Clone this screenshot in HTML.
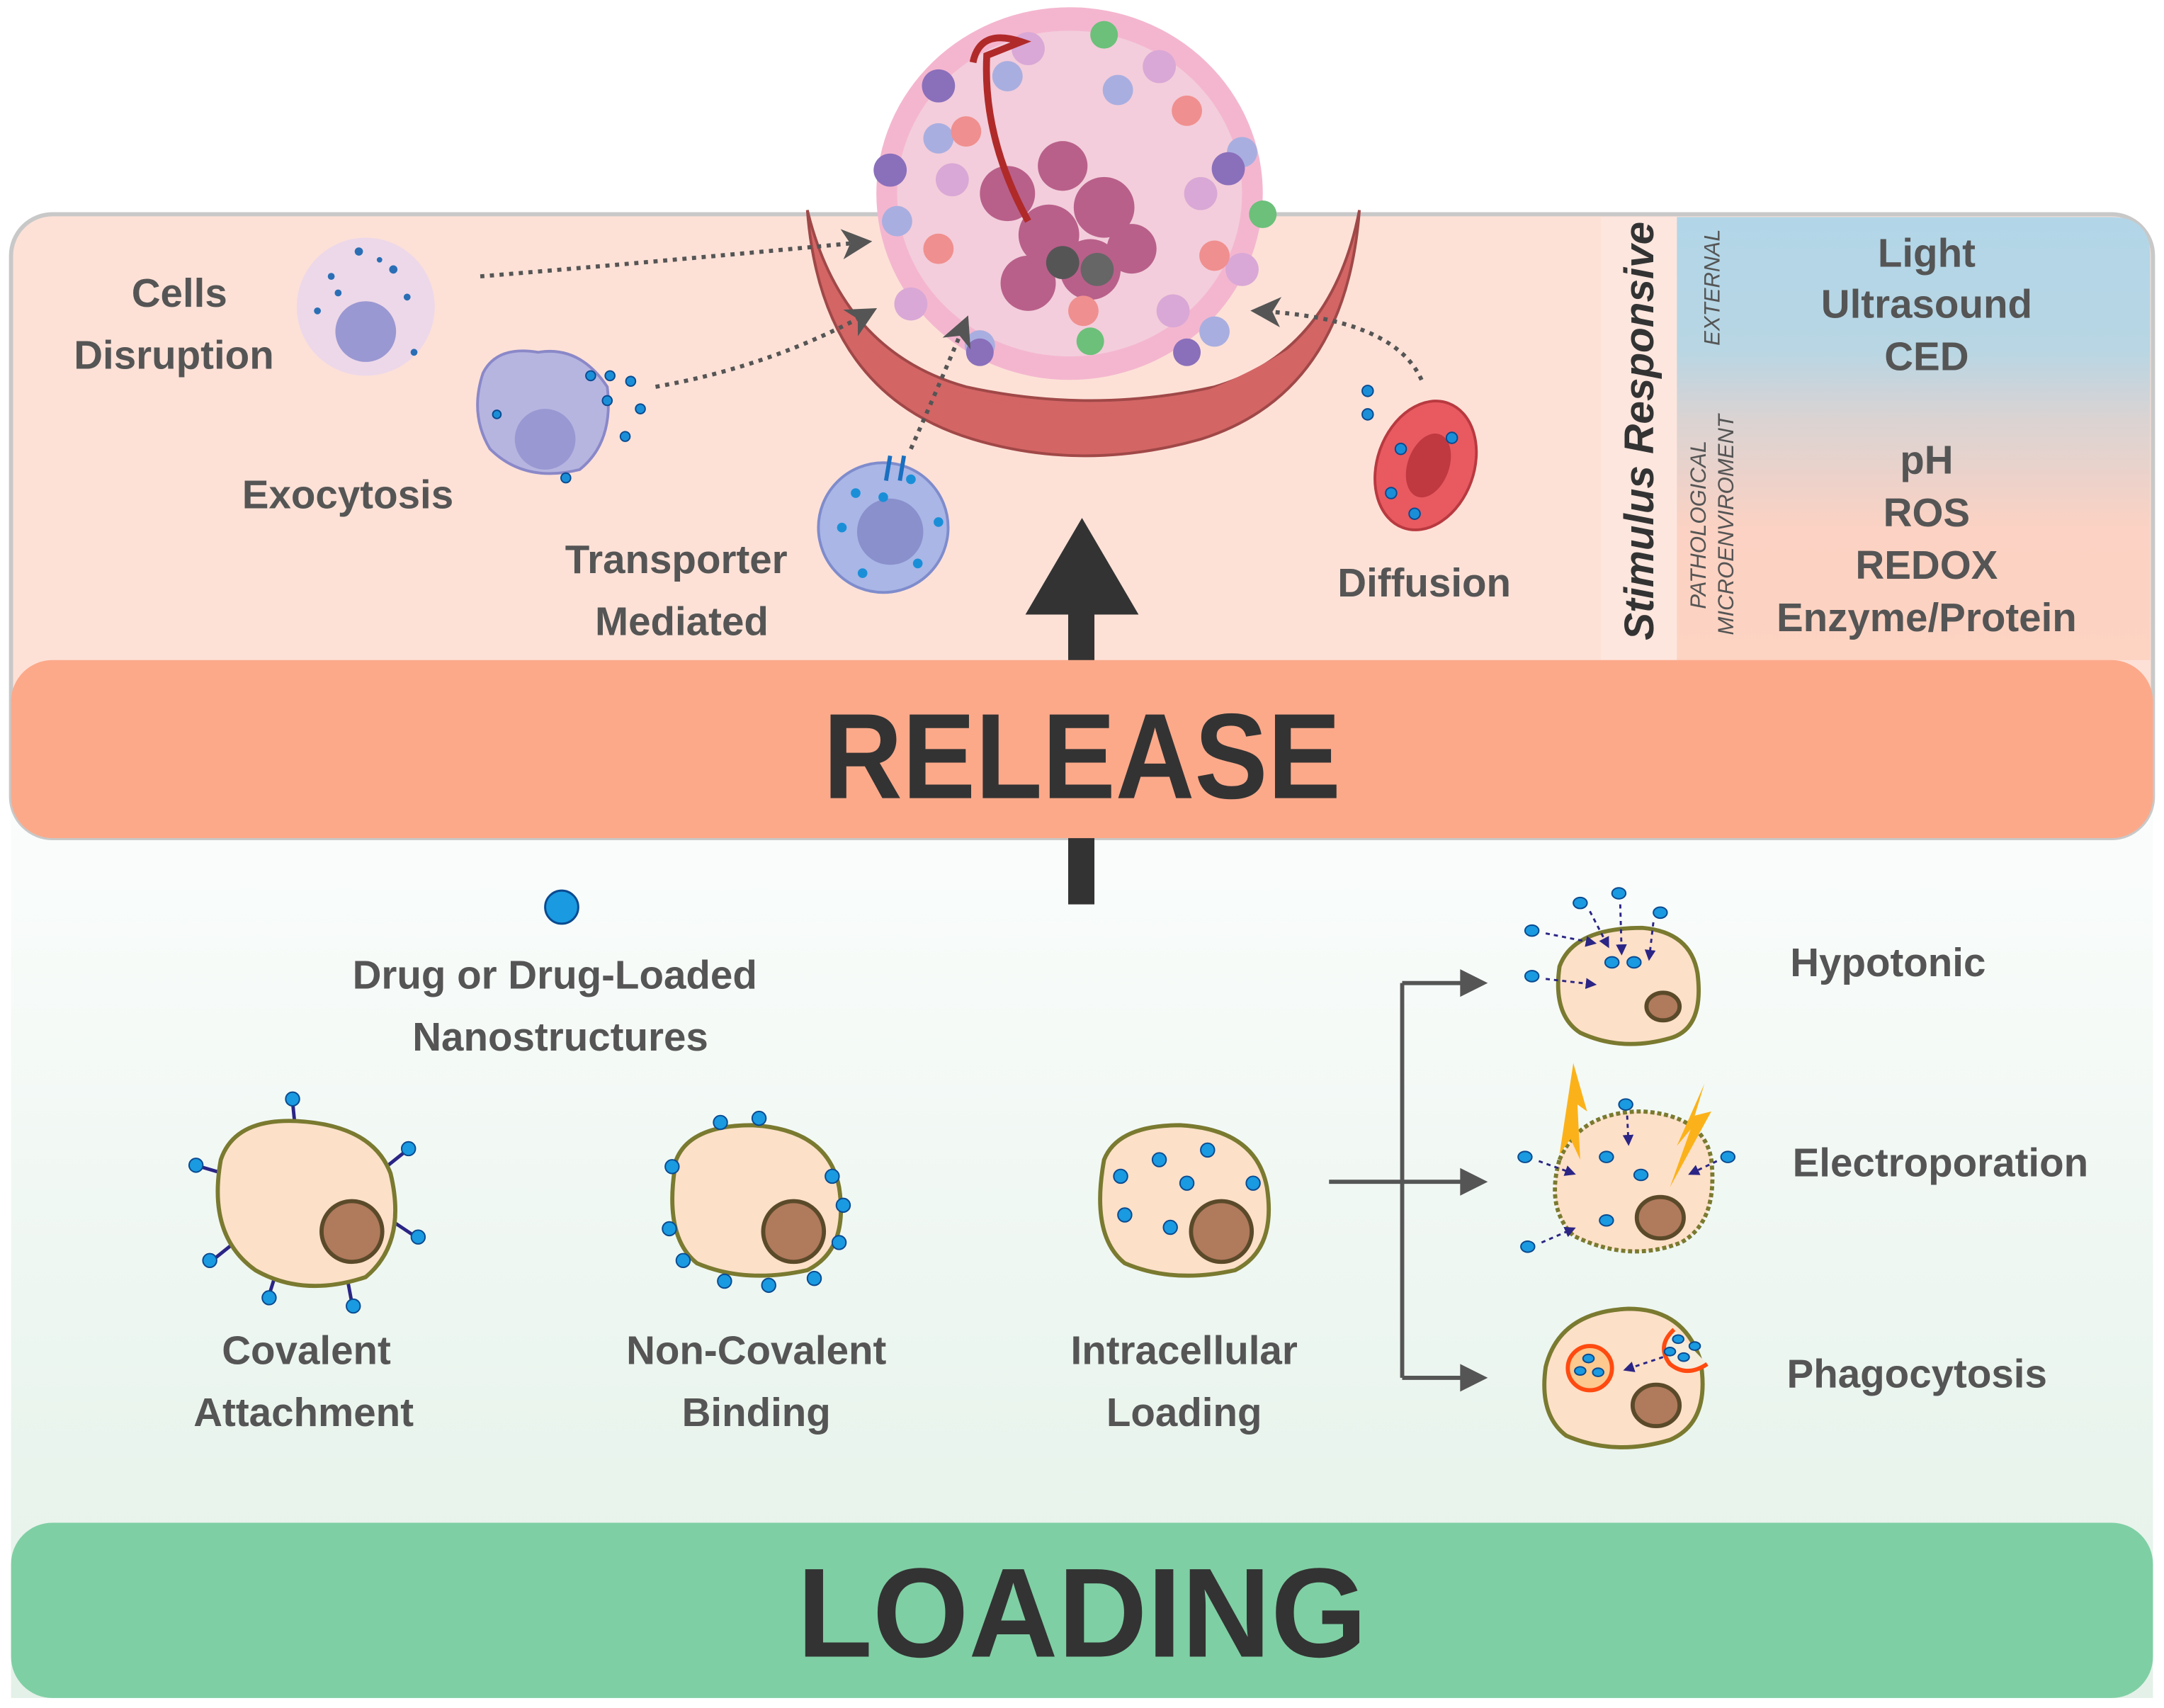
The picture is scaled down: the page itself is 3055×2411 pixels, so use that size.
<!DOCTYPE html>
<html><head><meta charset="utf-8"><style>
html,body{margin:0;padding:0;background:#fff;}
svg{display:block;}
text{font-family:"Liberation Sans",sans-serif;font-weight:bold;fill:#555;}
</style></head><body>
<svg width="3055" height="2411" viewBox="0 0 1568 1237" xmlns="http://www.w3.org/2000/svg">
<defs>
<linearGradient id="low" x1="0" y1="0" x2="0" y2="1"><stop offset="0" stop-color="#fbfdfc"/><stop offset="1" stop-color="#e3f1e8"/></linearGradient>
<linearGradient id="stim" x1="0" y1="0" x2="0" y2="1"><stop offset="0" stop-color="#b2d6e8"/><stop offset="0.3" stop-color="#b8d6e4"/><stop offset="0.45" stop-color="#d9d3d3"/><stop offset="0.7" stop-color="#fbd2c3"/><stop offset="1" stop-color="#fdd3c2"/></linearGradient>
<marker id="ah" markerWidth="8" markerHeight="8" refX="6" refY="4" orient="auto" markerUnits="userSpaceOnUse"><path d="M0,0 L8,4 L0,8 z" fill="#2b2585"/></marker>
<marker id="gh" markerWidth="22" markerHeight="22" refX="18" refY="11" orient="auto" markerUnits="userSpaceOnUse"><path d="M0,0 L22,11 L0,22 L6,11 z" fill="#555"/></marker>
</defs>
<!-- lower region -->
<rect x="8" y="580" width="1552" height="650" fill="url(#low)"/>
<!-- top panel -->
<rect x="8" y="155" width="1552" height="452" rx="30" fill="#fde1d7" stroke="#c8c8c8" stroke-width="3"/>
<path d="M1215,157 H1530 Q1558,157 1558,185 V478 H1215 Z" fill="url(#stim)"/>
<rect x="1160" y="157" width="55" height="321" fill="#fde6de"/>
<!-- big arrow (behind band) -->
<rect x="774" y="440" width="19" height="215" fill="#333"/>
<path d="M743,445 L784,375 L825,445 Z" fill="#333"/>
<!-- release band -->
<rect x="8" y="478" width="1552" height="129" rx="30" fill="#fca98a"/>
<text x="784" y="578" font-size="88" text-anchor="middle" textLength="375" lengthAdjust="spacingAndGlyphs" style="fill:#333">RELEASE</text>
<!-- loading band -->
<rect x="8" y="1103" width="1552" height="127" rx="30" fill="#7fcfa4"/>
<text x="784" y="1200" font-size="92" text-anchor="middle" textLength="413" lengthAdjust="spacingAndGlyphs" style="fill:#333">LOADING</text>
<!-- tumor -->
<path d="M585,152 Q595,285 705,318 Q785,342 870,318 Q975,285 985,152 Q965,255 880,280 Q790,300 700,280 Q610,255 585,152 Z" fill="#d46565" stroke="#a04848" stroke-width="2"/>
<ellipse cx="775" cy="140" rx="140" ry="135" fill="#f4b6cf"/>
<ellipse cx="775" cy="140" rx="125" ry="118" fill="#f3cddb"/>
<path d="M610,235 Q700,300 785,300 Q870,300 960,235 Q930,275 880,285 Q790,305 700,285 Q640,270 610,235 Z" fill="#d46565"/>
<g fill="#b8608a">
<circle cx="760" cy="170" r="22"/><circle cx="800" cy="150" r="22"/><circle cx="730" cy="140" r="20"/><circle cx="790" cy="195" r="22"/><circle cx="745" cy="205" r="20"/><circle cx="820" cy="180" r="18"/><circle cx="770" cy="120" r="18"/></g>
<circle cx="770" cy="190" r="12" fill="#555"/><circle cx="795" cy="195" r="12" fill="#666"/>
<g fill="#a9aee0"><circle cx="680" cy="100" r="11"/><circle cx="650" cy="160" r="11"/><circle cx="880" cy="240" r="11"/><circle cx="810" cy="65" r="11"/><circle cx="900" cy="110" r="11"/><circle cx="730" cy="55" r="11"/><circle cx="710" cy="250" r="11"/></g>
<g fill="#d9a8d6"><circle cx="745" cy="35" r="12"/><circle cx="840" cy="48" r="12"/><circle cx="690" cy="130" r="12"/><circle cx="870" cy="140" r="12"/><circle cx="900" cy="195" r="12"/><circle cx="660" cy="220" r="12"/><circle cx="850" cy="225" r="12"/></g>
<g fill="#f08f8f"><circle cx="700" cy="95" r="11"/><circle cx="860" cy="80" r="11"/><circle cx="680" cy="180" r="11"/><circle cx="785" cy="225" r="11"/><circle cx="880" cy="185" r="11"/></g>
<g fill="#8a6fbb"><circle cx="680" cy="62" r="12"/><circle cx="645" cy="123" r="12"/><circle cx="890" cy="122" r="12"/><circle cx="860" cy="255" r="10"/><circle cx="710" cy="255" r="10"/></g>
<g fill="#6cc07a"><circle cx="800" cy="25" r="10"/><circle cx="915" cy="155" r="10"/><circle cx="790" cy="247" r="10"/></g>
<path d="M705,45 Q710,20 740,30 L715,40 Q712,100 745,160" fill="none" stroke="#b02a2a" stroke-width="5"/>
<!-- dotted arrows -->
<g fill="none" stroke="#555" stroke-width="3" stroke-dasharray="3,4">
<path d="M348,200 Q470,190 628,175" marker-end="url(#gh)"/>
<path d="M475,280 Q560,265 632,225" marker-end="url(#gh)"/>
<path d="M660,325 Q680,280 700,232" marker-end="url(#gh)"/>
<path d="M1030,275 Q1010,230 910,225" marker-end="url(#gh)"/>
</g>
<!-- cells disruption -->
<circle cx="265" cy="222" r="50" fill="#e8d6ee" opacity="0.8"/>
<circle cx="265" cy="240" r="22" fill="#9a98d2"/>
<g fill="#2a6fb5"><circle cx="240" cy="200" r="2.5"/><circle cx="260" cy="182" r="3"/><circle cx="285" cy="195" r="3"/><circle cx="295" cy="215" r="2.5"/><circle cx="230" cy="225" r="2.5"/><circle cx="300" cy="255" r="2.5"/><circle cx="245" cy="212" r="2.5"/><circle cx="275" cy="188" r="2"/></g>
<!-- exocytosis -->
<path d="M350,270 Q360,250 390,255 Q420,250 440,280 Q445,320 420,340 Q380,350 355,325 Q340,300 350,270 Z" fill="#b6b5e0" stroke="#8a88c8" stroke-width="2"/>
<circle cx="395" cy="318" r="22" fill="#9a98d2"/>
<g fill="#1a8fd8" stroke="#0a4a90"><circle cx="428" cy="272" r="3.5"/><circle cx="442" cy="272" r="3.5"/><circle cx="457" cy="276" r="3.5"/><circle cx="440" cy="290" r="3.5"/><circle cx="464" cy="296" r="3.5"/><circle cx="453" cy="316" r="3.5"/><circle cx="410" cy="346" r="3.5"/><circle cx="360" cy="300" r="3"/></g>
<!-- transporter -->
<circle cx="640" cy="382" r="47" fill="#a9b6e6" stroke="#7f8ccc" stroke-width="2"/>
<circle cx="645" cy="385" r="24" fill="#8a90cc"/>
<path d="M645,330 L642,348 M655,330 L652,348" stroke="#1a6fc0" stroke-width="3"/>
<g fill="#1a8fd8"><circle cx="620" cy="357" r="3.5"/><circle cx="640" cy="360" r="3.5"/><circle cx="610" cy="382" r="3.5"/><circle cx="680" cy="378" r="3.5"/><circle cx="625" cy="415" r="3.5"/><circle cx="665" cy="408" r="3.5"/><circle cx="660" cy="347" r="3.5"/></g>
<!-- RBC -->
<ellipse cx="1033" cy="337" rx="35" ry="48" transform="rotate(20 1033 337)" fill="#e85a60" stroke="#b83a40" stroke-width="2"/>
<ellipse cx="1035" cy="337" rx="15" ry="24" transform="rotate(20 1035 337)" fill="#c03840"/>
<g fill="#1a8fd8" stroke="#0a4a90"><circle cx="991" cy="283" r="4"/><circle cx="991" cy="300" r="4"/><circle cx="1015" cy="325" r="4"/><circle cx="1052" cy="317" r="4"/><circle cx="1008" cy="357" r="4"/><circle cx="1025" cy="372" r="4"/></g>
<!-- labels top -->
<g font-size="29" text-anchor="middle">
<text x="130" y="222">Cells</text><text x="126" y="267">Disruption</text>
<text x="252" y="368">Exocytosis</text>
<text x="490" y="415">Transporter</text><text x="494" y="460">Mediated</text>
<text x="1032" y="432">Diffusion</text>
<text x="1396" y="193">Light</text><text x="1396" y="230">Ultrasound</text><text x="1396" y="268">CED</text>
<text x="1396" y="343">pH</text><text x="1396" y="381">ROS</text><text x="1396" y="419">REDOX</text><text x="1396" y="457">Enzyme/Protein</text>
</g>
<text transform="translate(1198,312) rotate(-90)" font-size="30" text-anchor="middle" font-style="italic" style="fill:#333">Stimulus Responsive</text>
<text transform="translate(1246,208) rotate(-90)" font-size="16" text-anchor="middle" font-style="italic" style="font-weight:normal">EXTERNAL</text>
<text transform="translate(1236,380) rotate(-90)" font-size="16" text-anchor="middle" font-style="italic" style="font-weight:normal">PATHOLOGICAL</text>
<text transform="translate(1256,380) rotate(-90)" font-size="16" text-anchor="middle" font-style="italic" style="font-weight:normal">MICROENVIROMENT</text>
<!-- loading section -->
<circle cx="407" cy="657" r="12" fill="#1a9ae0" stroke="#0a4a90" stroke-width="1.5"/>
<g font-size="29" text-anchor="middle">
<text x="402" y="716">Drug or Drug-Loaded</text><text x="406" y="761">Nanostructures</text>
<text x="222" y="988">Covalent</text><text x="220" y="1033">Attachment</text>
<text x="548" y="988">Non-Covalent</text><text x="548" y="1033">Binding</text>
<text x="858" y="988">Intracellular</text><text x="858" y="1033">Loading</text>
<text x="1368" y="707">Hypotonic</text>
<text x="1406" y="852">Electroporation</text>
<text x="1389" y="1005">Phagocytosis</text>
</g>
<!-- covalent -->
<g stroke="#2b2585" stroke-width="2.5"><path d="M212,798 L214,818 M145,845 L162,850 M295,833 L280,845 M300,895 L285,885 M155,912 L170,900 M195,938 L200,922 M255,944 L252,928"/></g>
<path d="M160,840 Q170,810 215,812 Q270,815 283,850 Q295,900 265,925 Q220,940 185,920 Q150,895 160,840 Z" fill="#fce0c8" stroke="#7a7a30" stroke-width="3"/>
<circle cx="255" cy="892" r="22" fill="#b07a5c" stroke="#5a4a2a" stroke-width="3"/>
<g fill="#1a9ae0" stroke="#0a4a90"><circle cx="212" cy="796" r="5"/><circle cx="142" cy="844" r="5"/><circle cx="296" cy="832" r="5"/><circle cx="303" cy="896" r="5"/><circle cx="152" cy="913" r="5"/><circle cx="195" cy="940" r="5"/><circle cx="256" cy="946" r="5"/></g>
<!-- non-covalent -->
<path d="M490,840 Q500,815 545,815 Q600,818 608,860 Q615,905 585,920 Q540,930 505,915 Q480,895 490,840 Z" fill="#fce0c8" stroke="#7a7a30" stroke-width="3"/>
<circle cx="575" cy="892" r="22" fill="#b07a5c" stroke="#5a4a2a" stroke-width="3"/>
<g fill="#1a9ae0" stroke="#0a4a90"><circle cx="522" cy="813" r="5"/><circle cx="550" cy="810" r="5"/><circle cx="487" cy="845" r="5"/><circle cx="603" cy="852" r="5"/><circle cx="485" cy="890" r="5"/><circle cx="611" cy="873" r="5"/><circle cx="495" cy="913" r="5"/><circle cx="525" cy="928" r="5"/><circle cx="557" cy="931" r="5"/><circle cx="590" cy="926" r="5"/><circle cx="608" cy="900" r="5"/></g>
<!-- intracellular -->
<path d="M800,840 Q810,815 855,815 Q910,818 918,860 Q925,905 895,920 Q850,930 815,915 Q790,895 800,840 Z" fill="#fce0c8" stroke="#7a7a30" stroke-width="3"/>
<circle cx="885" cy="892" r="22" fill="#b07a5c" stroke="#5a4a2a" stroke-width="3"/>
<g fill="#1a9ae0" stroke="#0a4a90"><circle cx="840" cy="840" r="5"/><circle cx="875" cy="833" r="5"/><circle cx="812" cy="852" r="5"/><circle cx="860" cy="857" r="5"/><circle cx="908" cy="857" r="5"/><circle cx="815" cy="880" r="5"/><circle cx="848" cy="889" r="5"/></g>
<!-- connector -->
<g fill="none" stroke="#555" stroke-width="3"><path d="M963,856 H1065"/><path d="M1016,712 V998"/><path d="M1016,712 H1065"/><path d="M1016,998 H1065"/></g>
<g fill="#555"><path d="M1078,712 L1058,702 L1058,722 Z"/><path d="M1078,856 L1058,846 L1058,866 Z"/><path d="M1078,998 L1058,988 L1058,1008 Z"/></g>
<!-- hypotonic cell -->
<path d="M1130,700 Q1140,672 1190,672 Q1225,675 1230,705 Q1235,745 1210,752 Q1175,762 1145,748 Q1125,735 1130,700 Z" fill="#fde0c8" stroke="#7a7a30" stroke-width="3"/>
<ellipse cx="1205" cy="729" rx="12" ry="10" fill="#b07a5c" stroke="#5a4a2a" stroke-width="3"/>
<g fill="#1a9ae0" stroke="#0a4a90"><ellipse cx="1145" cy="654" rx="5" ry="4"/><ellipse cx="1173" cy="647" rx="5" ry="4"/><ellipse cx="1203" cy="661" rx="5" ry="4"/><ellipse cx="1110" cy="674" rx="5" ry="4"/><ellipse cx="1110" cy="707" rx="5" ry="4"/><ellipse cx="1168" cy="697" rx="5" ry="4"/><ellipse cx="1184" cy="697" rx="5" ry="4"/></g>
<g stroke="#2b2585" stroke-width="1.5" stroke-dasharray="3,3" fill="none"><path d="M1152,660 L1165,685" marker-end="url(#ah)"/><path d="M1174,655 L1175,690" marker-end="url(#ah)"/><path d="M1198,668 L1195,694" marker-end="url(#ah)"/><path d="M1120,676 L1155,683" marker-end="url(#ah)"/><path d="M1120,709 L1155,713" marker-end="url(#ah)"/></g>
<!-- electroporation -->
<path d="M1130,840 Q1145,805 1190,805 Q1235,808 1240,840 Q1245,885 1218,900 Q1180,915 1140,895 Q1120,875 1130,840 Z" fill="#fde0c8" stroke="#7a7a30" stroke-width="3" stroke-dasharray="3,2"/>
<ellipse cx="1203" cy="882" rx="17" ry="15" fill="#b07a5c" stroke="#5a4a2a" stroke-width="3"/>
<path d="M1140,770 L1150,805 L1143,800 L1145,840 L1138,825 L1130,836 Z" fill="#fbb21a"/>
<path d="M1235,785 L1215,830 L1225,818 L1210,860 L1240,805 L1228,808 Z" fill="#fbb21a"/>
<g fill="#1a9ae0" stroke="#0a4a90"><ellipse cx="1178" cy="800" rx="5" ry="4"/><ellipse cx="1105" cy="838" rx="5" ry="4"/><ellipse cx="1164" cy="838" rx="5" ry="4"/><ellipse cx="1189" cy="851" rx="5" ry="4"/><ellipse cx="1252" cy="838" rx="5" ry="4"/><ellipse cx="1164" cy="884" rx="5" ry="4"/><ellipse cx="1107" cy="903" rx="5" ry="4"/></g>
<g stroke="#2b2585" stroke-width="1.5" stroke-dasharray="3,3" fill="none"><path d="M1179,808 L1180,828" marker-end="url(#ah)"/><path d="M1115,841 L1140,850" marker-end="url(#ah)"/><path d="M1244,841 L1225,850" marker-end="url(#ah)"/><path d="M1117,900 L1140,890" marker-end="url(#ah)"/></g>
<!-- phagocytosis -->
<path d="M1120,990 Q1130,950 1180,948 Q1220,948 1232,985 Q1240,1030 1210,1043 Q1170,1055 1135,1040 Q1115,1025 1120,990 Z" fill="#fde0c8" stroke="#7a7a30" stroke-width="3"/>
<ellipse cx="1200" cy="1018" rx="17" ry="15" fill="#b07a5c" stroke="#5a4a2a" stroke-width="3"/>
<circle cx="1152" cy="991" r="16" fill="#fdc98f" stroke="#ff4a10" stroke-width="3"/>
<path d="M1213,963 Q1200,975 1210,988 Q1222,998 1237,988" fill="#f5ecdc" stroke="#ff4a10" stroke-width="3"/>
<g fill="#1a9ae0" stroke="#0a4a90"><ellipse cx="1151" cy="984" rx="4" ry="3"/><ellipse cx="1145" cy="993" rx="4" ry="3"/><ellipse cx="1158" cy="994" rx="4" ry="3"/><ellipse cx="1216" cy="970" rx="4" ry="3"/><ellipse cx="1228" cy="975" rx="4" ry="3"/><ellipse cx="1210" cy="979" rx="4" ry="3"/><ellipse cx="1220" cy="983" rx="4" ry="3"/></g>
<path d="M1205,983 L1178,992" stroke="#2b2585" stroke-width="1.5" stroke-dasharray="3,3" marker-end="url(#ah)"/>
</svg>
</body></html>
